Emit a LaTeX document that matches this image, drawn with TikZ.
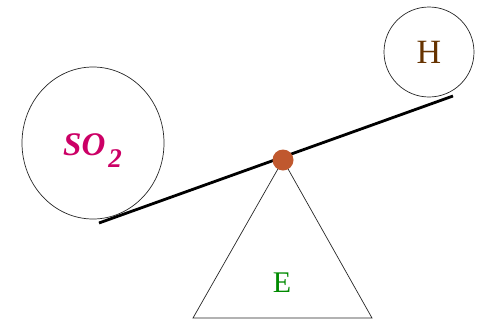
\documentclass[tikz,border=0pt]{standalone}
\usepackage{fontspec}
\setmainfont{Liberation Serif}
\usepackage{tikz}
\usetikzlibrary{shapes.geometric, positioning, calc}
\definecolor{molecule}{HTML}{CC0066}
\definecolor{hydro}{HTML}{663300}
\definecolor{energy}{HTML}{008A00}
\definecolor{hinge}{HTML}{C0582E}

\begin{document}
\begin{tikzpicture}[
  x=1pt, y=-1pt,
  ball/.style={draw=black!85, line width=0.7pt},
  beam/.style={line width=2.8pt, draw=black},
  stand/.style={draw=black!85, line width=0.7pt, line join=miter},
  pivotdot/.style={circle, fill=hinge, inner sep=0pt, minimum size=21pt},
  tag/.style={inner sep=0pt, anchor=base}
]
  \useasboundingbox (0,0) rectangle (487,327);

  \node[ball, ellipse, minimum width=142pt, minimum height=152pt] (so2ball) at (93,143) {};
  \node[ball, circle, minimum size=90pt, inner sep=0pt,
        text=hydro, font=\fontsize{34}{34}\selectfont] (hball) at (429,52) {H};

  \coordinate (beamL) at (99,223);
  \coordinate (beamR) at (453,96);
  \coordinate (baseL) at (193,318);
  \coordinate (baseR) at (372,318);
  \coordinate (apex)  at (283,160);

  \draw[stand] (apex) -- (baseL) -- (baseR) -- cycle;
  \draw[beam] (beamL) -- (beamR);
  \node[pivotdot] (pivot) at (apex) {};

  \node[tag, anchor=base west, text=molecule,
        font=\fontsize{33}{33}\selectfont\bfseries\itshape] (so2label) at (63,155)
        {SO\kern3pt\raisebox{-12pt}{\fontsize{27}{27}\selectfont 2}};
  \node[tag, text=energy, font=\fontsize{30}{30}\selectfont] (elabel) at (282,292) {E};

\end{tikzpicture}
\end{document}
